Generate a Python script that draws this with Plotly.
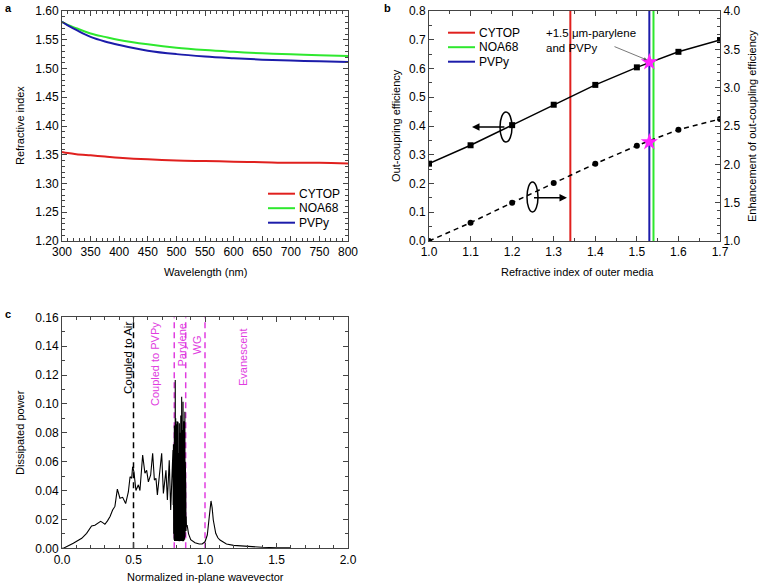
import plotly.graph_objects as go

# ---------------- data ----------------
# panel a: refractive index dispersion
wavelength = [300, 310, 325, 350, 375, 400, 450, 500, 550, 600, 650, 700, 750, 800]
n_cytop = [1.355, 1.353, 1.351, 1.349, 1.347, 1.345, 1.342, 1.340, 1.339, 1.338, 1.337, 1.336, 1.336, 1.335]
n_noa68 = [1.581, 1.576, 1.570, 1.561, 1.555, 1.5496, 1.542, 1.536, 1.532, 1.529, 1.5264, 1.5246, 1.523, 1.5217]
n_pvpy = [1.581, 1.575, 1.567, 1.555, 1.547, 1.541, 1.531, 1.525, 1.521, 1.518, 1.5154, 1.5137, 1.5125, 1.5113]

# panel b: out-coupling vs outer index
n_outer = [1.0, 1.1, 1.2, 1.3, 1.4, 1.5, 1.6, 1.7]
outcoupling = [0.269, 0.333, 0.403, 0.474, 0.543, 0.604, 0.658, 0.699]
enhancement = [1.0, 1.239, 1.50, 1.757, 2.008, 2.243, 2.452, 2.59]
n_cytop_mark = 1.34
n_noa68_mark = 1.54
n_pvpy_mark = 1.53
star_n = [1.53]
star_eff = [0.622]
star_enh = [2.29]

# panel c: dissipated power spectrum
k_low = [0.0, 0.01, 0.079, 0.138, 0.172, 0.207, 0.23, 0.254, 0.27, 0.285, 0.30, 0.318, 0.336, 0.354,
         0.37, 0.387, 0.405, 0.424, 0.445, 0.464, 0.476, 0.487, 0.494, 0.503, 0.517, 0.534, 0.545,
         0.564, 0.58, 0.592, 0.604, 0.62, 0.634, 0.646, 0.657, 0.667, 0.681, 0.697, 0.709, 0.727,
         0.737, 0.75, 0.76, 0.774]
p_low = [0.0, 0.0, 0.0035, 0.0069, 0.0104, 0.0155, 0.016, 0.0177, 0.0187, 0.0178, 0.0166, 0.019, 0.022, 0.0265,
         0.029, 0.041, 0.0347, 0.0353, 0.031, 0.039, 0.0496, 0.0485, 0.0565, 0.053, 0.040, 0.044, 0.040,
         0.0646, 0.052, 0.054, 0.046, 0.0508, 0.0658, 0.0473, 0.0485, 0.037, 0.0496, 0.0658, 0.038, 0.054,
         0.0335, 0.061, 0.0265, 0.066]
k_dense = [0.7760, 0.7776, 0.7792, 0.7808, 0.7824, 0.7840, 0.7856, 0.7872, 0.7888, 0.7904, 0.7920, 0.7936,
           0.7952, 0.7968, 0.7984, 0.8000, 0.8016, 0.8032, 0.8048, 0.8064, 0.8080, 0.8096, 0.8112, 0.8128,
           0.8144, 0.8160, 0.8176, 0.8192, 0.8208, 0.8224, 0.8240, 0.8256, 0.8272, 0.8288, 0.8304, 0.8320,
           0.8336, 0.8352, 0.8368, 0.8384, 0.8400, 0.8416, 0.8432, 0.8448, 0.8464, 0.8480, 0.8496, 0.8512,
           0.8528, 0.8544, 0.8560, 0.8576, 0.8592, 0.8608, 0.8624, 0.8640, 0.8656, 0.8672, 0.8688, 0.8704]
p_dense = [0.068, 0.030, 0.072, 0.010, 0.062, 0.006, 0.085, 0.005, 0.078, 0.006, 0.1166, 0.005,
           0.090, 0.007, 0.086, 0.005, 0.074, 0.006, 0.088, 0.005, 0.070, 0.006, 0.0877, 0.005,
           0.066, 0.007, 0.082, 0.005, 0.0866, 0.006, 0.072, 0.005, 0.080, 0.006, 0.092, 0.005,
           0.076, 0.006, 0.105, 0.005, 0.082, 0.006, 0.090, 0.005, 0.1015, 0.006, 0.078, 0.005,
           0.088, 0.007, 0.070, 0.006, 0.0946, 0.008, 0.060, 0.010, 0.040, 0.012, 0.022, 0.015]
k_high = [0.875, 0.885, 0.90, 0.93, 0.96, 0.98, 1.0, 1.016, 1.03, 1.042, 1.05, 1.058, 1.075, 1.09,
          1.105, 1.13, 1.15, 1.2, 1.3, 1.4, 1.5, 1.6]
p_high = [0.016, 0.010, 0.006, 0.0039, 0.003, 0.003, 0.0045, 0.0092, 0.022, 0.0328, 0.028, 0.0196, 0.0104, 0.0073,
          0.0057, 0.004, 0.003, 0.002, 0.0012, 0.0007, 0.0004, 0.0003]
k_air = 0.5
k_pvpy = 0.785
k_parylene = 0.865
k_wg = 1.0

# ---------------- style ----------------
W, H = 763, 587
RED, GREEN, BLUE, MAG = "#e0201e", "#2ee82e", "#1c1caa", "#e03ce0"
FONT = "Arial, Liberation Sans, sans-serif"
AX = "#444444"


def px(x):
    return x / W


def py(y):
    return 1 - y / H


fig = go.Figure()

# panel a
for n, c in [(n_cytop, RED), (n_noa68, GREEN), (n_pvpy, BLUE)]:
    fig.add_trace(go.Scatter(x=wavelength, y=n, mode="lines", line=dict(color=c, width=2, shape="spline"),
                             xaxis="x", yaxis="y", showlegend=False))

# panel b
for nm, c in [(n_cytop_mark, RED), (n_noa68_mark, GREEN), (n_pvpy_mark, BLUE)]:
    fig.add_trace(go.Scatter(x=[nm, nm], y=[0, 0.8], mode="lines", line=dict(color=c, width=2),
                             xaxis="x2", yaxis="y2", showlegend=False))
fig.add_trace(go.Scatter(x=n_outer, y=outcoupling, mode="lines+markers",
                         line=dict(color="black", width=1.5), marker=dict(symbol="square", size=6, color="black"),
                         xaxis="x2", yaxis="y2", showlegend=False))
fig.add_trace(go.Scatter(x=n_outer, y=enhancement, mode="lines+markers",
                         line=dict(color="black", width=1.5, dash="5px,4px"),
                         marker=dict(symbol="circle", size=6, color="black"),
                         xaxis="x2", yaxis="y3", showlegend=False))
fig.add_trace(go.Scatter(x=star_n, y=star_eff, mode="markers",
                         marker=dict(symbol="star", size=13, color="#ff22ff", line=dict(width=0)),
                         xaxis="x2", yaxis="y2", showlegend=False))
fig.add_trace(go.Scatter(x=star_n, y=star_enh, mode="markers",
                         marker=dict(symbol="star", size=13, color="#ff22ff", line=dict(width=0)),
                         xaxis="x2", yaxis="y3", showlegend=False))

# panel c
for kk, c in [(k_air, "black"), (k_pvpy, MAG), (k_parylene, MAG), (k_wg, MAG)]:
    fig.add_trace(go.Scatter(x=[kk, kk], y=[0, 0.16], mode="lines", line=dict(color=c, width=1.5, dash="6px,4px"),
                             xaxis="x3", yaxis="y4", showlegend=False))
fig.add_trace(go.Scatter(x=k_low + k_dense + k_high, y=p_low + p_dense + p_high, mode="lines",
                         line=dict(color="black", width=1.1), xaxis="x3", yaxis="y4", showlegend=False))

tickfont = dict(family=FONT, size=12, color="black")


def axis(domain, rng, dtick, minor_dtick, anchor, mirror="ticks", side=None, overlaying=None):
    d = dict(domain=domain, range=rng, dtick=dtick, tick0=rng[0], ticks="inside", ticklen=5, tickwidth=1,
             tickcolor=AX, showline=True, linecolor=AX, linewidth=1, mirror=mirror, showgrid=False,
             zeroline=False, tickfont=tickfont, anchor=anchor, automargin=False, ticklabeloverflow="allow",
             minor=dict(dtick=minor_dtick, ticks="inside", ticklen=3, tickcolor=AX, showgrid=False))
    if side:
        d["side"] = side
    if overlaying:
        d["overlaying"] = overlaying
    return d


ya = [py(241), py(11)]
yc = [py(548.3), py(317.3)]
xa = [px(62), px(348)]
xb = [px(429), px(720)]

fig.update_layout(
    width=W, height=H, margin=dict(l=0, r=0, t=0, b=0), plot_bgcolor="white", paper_bgcolor="white",
    font=dict(family=FONT, color="black"), hovermode=False,
    xaxis=axis(xa, [300, 800], 50, 10, "y"),
    yaxis=dict(**axis(ya, [1.2, 1.6], 0.05, 0.01, "x"), tickformat=".2f"),
    xaxis2=dict(**axis(xb, [1.0, 1.7], 0.1, 0.05, "y2"), tickformat=".1f"),
    yaxis2=dict(**axis(ya, [0, 0.8], 0.1, 0.05, "x2", mirror=False), tickformat=".1f"),
    yaxis3=dict(**axis(ya, [1.0, 4.0], 0.5, 0.1, "x2", mirror=False, side="right", overlaying="y2"),
                tickformat=".1f"),
    xaxis3=dict(**axis(xa, [0, 2.0], 0.5, 0.1, "y4"), tickformat=".1f"),
    yaxis4=dict(**axis(yc, [0, 0.16], 0.02, 0.01, "x3"), tickformat=".2f"),
)

ann = []


def text(x, y, s, size=11, color="black", xanchor="center", yanchor="middle", angle=0, bold=False, align="center"):
    ann.append(dict(x=px(x), y=py(y), xref="paper", yref="paper", text=("<b>%s</b>" % s) if bold else s,
                    showarrow=False, xanchor=xanchor, yanchor=yanchor, textangle=angle, align=align,
                    borderpad=0, font=dict(family=FONT, size=size, color=color)))


# panel letters
text(4, 8, "a", 11, bold=True, xanchor="left")
text(383, 8, "b", 11, bold=True, xanchor="left")
text(4, 314, "c", 11, bold=True, xanchor="left")

# axis titles
text(205, 272, "Wavelength (nm)", 11)
text(20, 126, "Refractive index", 11, angle=-90)
text(577, 272, "Refractive index of outer media", 11)
text(396, 126, "Out-coupring efficiency", 11, angle=-90)
text(752, 126, "Enhancement of out-coupling efficiency", 11, angle=-90)
text(205, 577, "Normalized in-plane wavevector", 11)
text(20, 433, "Dissipated power", 11, angle=-90)

# legends (manual)
shapes = []
for i, (lab, c) in enumerate([("CYTOP", RED), ("NOA68", GREEN), ("PVPy", BLUE)]):
    ya_ = [193.7, 208.2, 222.7][i]
    shapes.append(dict(type="line", xref="paper", yref="paper", x0=px(268), x1=px(295), y0=py(ya_), y1=py(ya_),
                       line=dict(color=c, width=2)))
    text(298, ya_, lab, 12, xanchor="left")
    yb_ = [32.7, 47.2, 61.7][i]
    shapes.append(dict(type="line", xref="paper", yref="paper", x0=px(448), x1=px(475), y0=py(yb_), y1=py(yb_),
                       line=dict(color=c, width=2)))
    text(478, yb_, lab, 12, xanchor="left")

# star annotation
text(545, 40, "+1.5 \u03bcm-parylene<br>and PVPy", 11.5, xanchor="left", align="left")
ann.append(dict(x=1.5244, y=0.6296, xref="x2", yref="y2", ax=-34, ay=-14, axref="pixel", ayref="pixel",
                showarrow=True, arrowhead=2, arrowsize=0.8, arrowwidth=0.8, arrowcolor="#555", text=""))

# ellipses and arrows in b
shapes.append(dict(type="circle", xref="x2", yref="y2", x0=1.1708, x1=1.1997, y0=0.3443, y1=0.4487,
                   line=dict(color="black", width=1.5)))
shapes.append(dict(type="circle", xref="x2", yref="y2", x0=1.2357, x1=1.2622, y0=0.1009, y1=0.2052,
                   line=dict(color="black", width=1.5)))
ann.append(dict(x=1.1034, y=0.3965, xref="x2", yref="y2", ax=1.185, ay=0.3965, axref="x2", ayref="y2",
                showarrow=True, arrowhead=2, arrowsize=1, arrowwidth=1.5, arrowcolor="black", text=""))
ann.append(dict(x=1.332, y=0.1506, xref="x2", yref="y2", ax=1.249, ay=0.1506, axref="x2", ayref="y2",
                showarrow=True, arrowhead=2, arrowsize=1, arrowwidth=1.5, arrowcolor="black", text=""))

# panel c labels
text(128, 358, "Coupled to Air", 11.5, angle=-90)
text(155, 364, "Coupled to PVPy", 11, color=MAG, angle=-90)
text(181.5, 345, "Parylene", 11, color=MAG, angle=-90)
text(196.5, 345, "WG", 11, color=MAG, angle=-90)
text(243, 358, "Evanescent", 11, color=MAG, angle=-90)

fig.update_layout(annotations=ann, shapes=shapes)
# remove the default page margin so the figure sits at the window's top-left corner
fig.write_html("out.html", config={"displayModeBar": False, "staticPlot": True},
               post_script="document.body.style.margin='0px';")
